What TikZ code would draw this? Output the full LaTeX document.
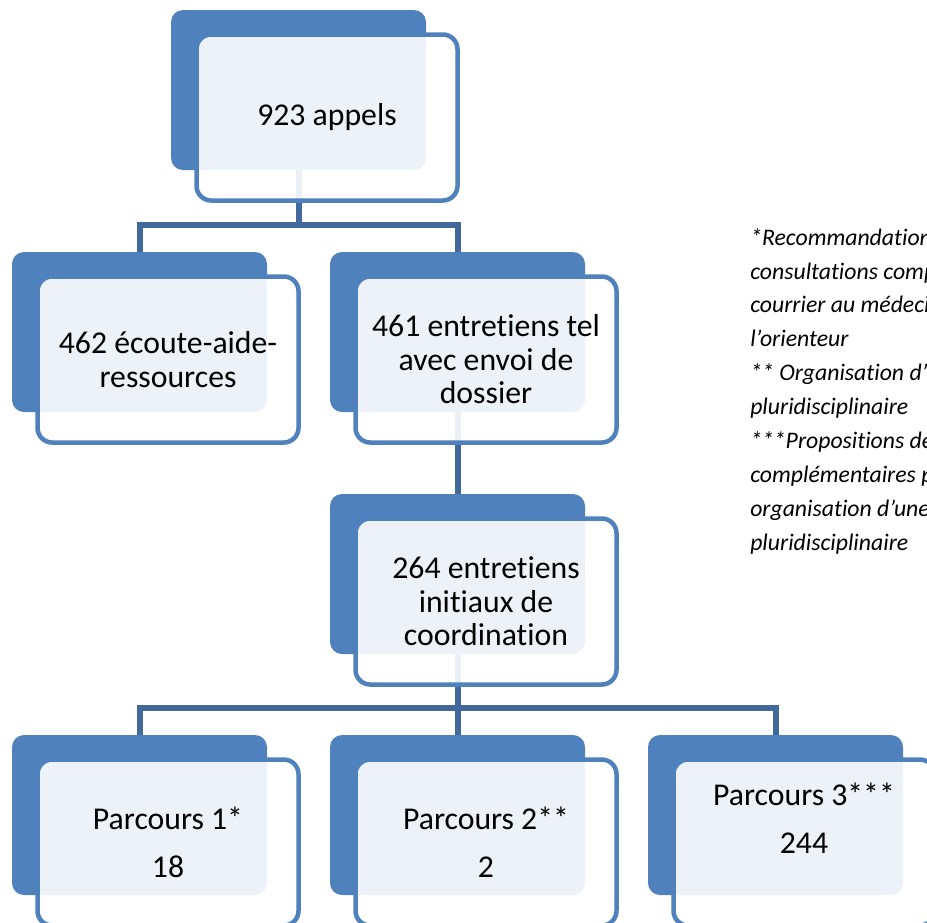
\documentclass[tikz,border=0pt]{standalone}
\usepackage{fontspec}
\setmainfont[Ligatures=NoCommon]{Carlito}
\usetikzlibrary{positioning,calc}
\definecolor{panelblue}{HTML}{4F81BD}
\definecolor{linkblue}{HTML}{41699B}
\pgfdeclarelayer{backs}
\pgfdeclarelayer{links}
\pgfsetlayers{backs,links,main}
\tikzset{
  backbox/.style  = {rectangle, rounded corners=9pt, fill=panelblue,
                     minimum width=191.25pt, minimum height=120pt, inner sep=0pt},
  frontbox/.style = {rectangle, rounded corners=11pt, draw=panelblue, line width=3.375pt,
                     fill=white, fill opacity=0.9, text opacity=1,
                     minimum width=195.75pt, minimum height=124.5pt, inner sep=0pt,
                     align=center, font=\fontsize{23.8}{25.1}\selectfont},
  link/.style     = {draw=linkblue, line width=4.5pt},
  notes/.style    = {inner sep=0pt, align=left, anchor=base west,
                     font=\fontsize{17.8}{25.4}\selectfont\itshape}
}
\newcommand{\DrawPanel}[3]{%
  % draws the blue panel behind (named #1)
  \begin{pgfonlayer}{backs}
    \node[backbox] (#1) at #2 {};
  \end{pgfonlayer}
  % draws the light panel in front, holding the text
  \node[frontbox] (#1-f) at ($(#1.center)+(28.5,27.5)$) {#3};
}
\newcommand{\DrawLink}[2]{%
  % elbow connector from the parent panel to a child panel
  \draw[link] (#1.south) |- ($(#2.north)+(0,-26.5)$) -| (#2.north);
}

\begin{document}
\begin{tikzpicture}[x=0.75pt,y=-0.75pt]
    \useasboundingbox (0,0) rectangle (927,922);

    \DrawPanel{calls}{(298.5,90)}{923 appels}

    \DrawPanel{listen}{(139.5,332)}{462 écoute-aide-\\ressources}
    \DrawPanel{phone}{(457.5,332)}{461 entretiens tel\\avec envoi de\\dossier}

    \DrawPanel{coord}{(457.5,574)}{264 entretiens\\initiaux de\\coordination}

    \DrawPanel{path1}{(139.5,815)}{Parcours 1*\\[11pt]18}
    \DrawPanel{path2}{(457.5,815)}{Parcours 2**\\[11pt]2}
    \DrawPanel{path3}{(775.5,815)}{Parcours 3***\\[11pt]244\\[11pt]\mbox{}}

    \begin{pgfonlayer}{links}
      \DrawLink{calls}{listen}
      \DrawLink{calls}{phone}
      \draw[link] (phone.south) -- (coord.north);
      \DrawLink{coord}{path1}
      \DrawLink{coord}{path2}
      \DrawLink{coord}{path3}
    \end{pgfonlayer}

    % base of the last line of the notes
    \node[notes] (remarks) at (750,550) {%
      *Recommandations\\
      consultations complémentaires\\
      courrier au médecin\\
      l’orienteur\\
      ** Organisation d’une\\
      pluridisciplinaire\\
      ***Propositions de\\
      complémentaires puis\\
      organisation d’une\\
      pluridisciplinaire};
  \end{tikzpicture}
\end{document}
